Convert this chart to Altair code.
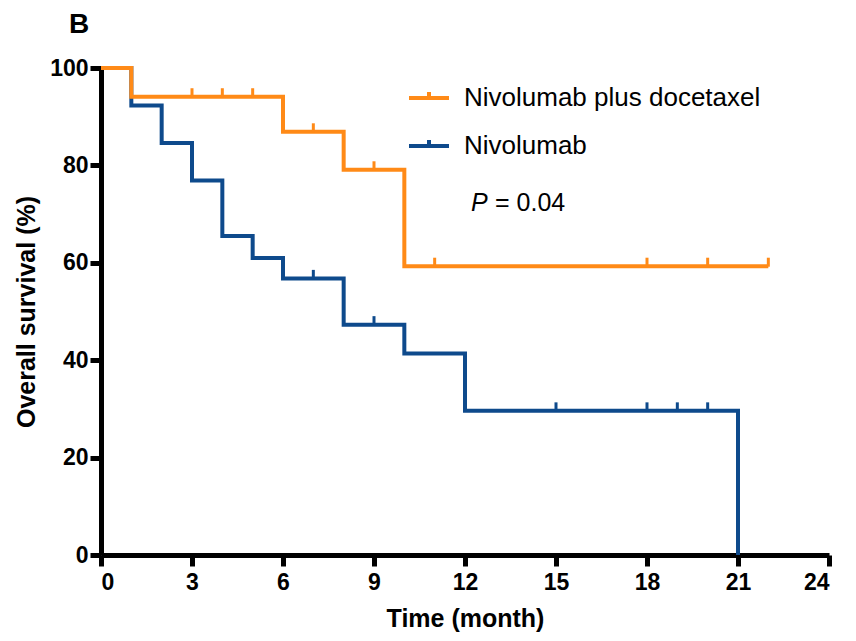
import altair as alt
import pandas as pd

ORANGE_NAME = "Nivolumab plus docetaxel"
BLUE_NAME = "Nivolumab"

orange_t = [0, 1, 6, 8, 10, 22]
orange_s = [100, 94.1, 86.9, 79.1, 59.3, 59.3]
orange_cens_t = [3, 4, 5, 7, 9, 11, 18, 20, 22]
orange_cens_s = [94.1, 94.1, 94.1, 86.9, 79.1, 59.3, 59.3, 59.3, 59.3]

blue_t = [0, 1, 2, 3, 4, 5, 6, 8, 10, 12, 21]
blue_s = [100, 92.3, 84.6, 76.9, 65.5, 61.0, 56.8, 47.3, 41.4, 29.6, 0]
blue_cens_t = [7, 9, 15, 18, 19, 20]
blue_cens_s = [56.8, 47.3, 29.6, 29.6, 29.6, 29.6]

x_ticks = [0, 3, 6, 9, 12, 15, 18, 21, 24]
y_ticks = [0, 20, 40, 60, 80, 100]

ORANGE = "#FF8A17"
BLUE = "#0E4A8C"
FONT = "Liberation Sans"

lines = pd.DataFrame(
    {"t": blue_t + orange_t,
     "s": blue_s + orange_s,
     "g": [BLUE_NAME] * len(blue_t) + [ORANGE_NAME] * len(orange_t)}
)
cens = pd.DataFrame(
    {"t": blue_cens_t + orange_cens_t,
     "s": blue_cens_s + orange_cens_s,
     "g": [BLUE_NAME] * len(blue_cens_t) + [ORANGE_NAME] * len(orange_cens_t)}
)

xscale = alt.Scale(domain=[0, 24], nice=False)
yscale = alt.Scale(domain=[0, 100], nice=False)
color = alt.Color(
    "g:N",
    scale=alt.Scale(domain=[ORANGE_NAME, BLUE_NAME], range=[ORANGE, BLUE]),
    legend=alt.Legend(
        title=None, orient="none", legendX=306, legendY=8,
        symbolType="M-1,0H1M0,0V-0.3", symbolSize=1600, symbolStrokeWidth=4,
        labelFontSize=26, labelFont=FONT, labelColor="black", labelOffset=13,
        rowPadding=13, labelLimit=400,
    ),
)

xaxis = alt.Axis(values=x_ticks, title="Time (month)", grid=False,
                 labelFontSize=23, labelFontWeight="bold", labelFont=FONT, labelColor="black",
                 titleFontSize=25, titleFontWeight="bold", titleFont=FONT, titleColor="black",
                 domainColor="black", domainWidth=5, tickColor="black", tickWidth=5, tickSize=11,
                 labelPadding=5, titlePadding=12)
yaxis = alt.Axis(values=y_ticks, title="Overall survival (%)", grid=False,
                 labelFontSize=23, labelFontWeight="bold", labelFont=FONT, labelColor="black",
                 titleFontSize=25, titleFontWeight="bold", titleFont=FONT, titleColor="black",
                 domainColor="black", domainWidth=5, tickColor="black", tickWidth=5, tickSize=11,
                 labelPadding=2, titlePadding=10)

base_lines = alt.Chart(lines)
blue_line = base_lines.transform_filter(alt.datum.g == BLUE_NAME).mark_line(
    interpolate="step-after", strokeWidth=4
).encode(x=alt.X("t:Q", scale=xscale, axis=xaxis), y=alt.Y("s:Q", scale=yscale, axis=yaxis), color=color)
orange_line = base_lines.transform_filter(alt.datum.g == ORANGE_NAME).mark_line(
    interpolate="step-after", strokeWidth=4
).encode(x=alt.X("t:Q", scale=xscale), y=alt.Y("s:Q", scale=yscale), color=color)

ticks = alt.Chart(cens).mark_tick(orient="vertical", size=9, thickness=3, yOffset=-4, opacity=1).encode(
    x=alt.X("t:Q", scale=xscale), y=alt.Y("s:Q", scale=yscale), color=color
)

p_text = alt.Chart(pd.DataFrame({"a": [0]})).mark_text(
    text="P", fontStyle="italic", fontSize=25, font=FONT, align="left", baseline="alphabetic", color="black"
).encode(x=alt.value(370), y=alt.value(143))
p_val = alt.Chart(pd.DataFrame({"a": [0]})).mark_text(
    text="= 0.04", fontSize=25, font=FONT, align="left", baseline="alphabetic", color="black"
).encode(x=alt.value(394), y=alt.value(143))
b_text = alt.Chart(pd.DataFrame({"a": [0]})).mark_text(
    text="B", fontWeight="bold", fontSize=28, font=FONT, align="left", baseline="alphabetic", color="black"
).encode(x=alt.value(-32), y=alt.value(-35))

chart = alt.layer(blue_line, orange_line, ticks, p_text, p_val, b_text).properties(
    width=728, height=487,
    autosize=alt.AutoSizeParams(type="none"),
    padding={"left": 93, "top": 60, "right": 15, "bottom": 85},
    background="white",
).configure_view(stroke=None)

chart.save("out.html", embed_options={"renderer": "svg", "actions": False})
